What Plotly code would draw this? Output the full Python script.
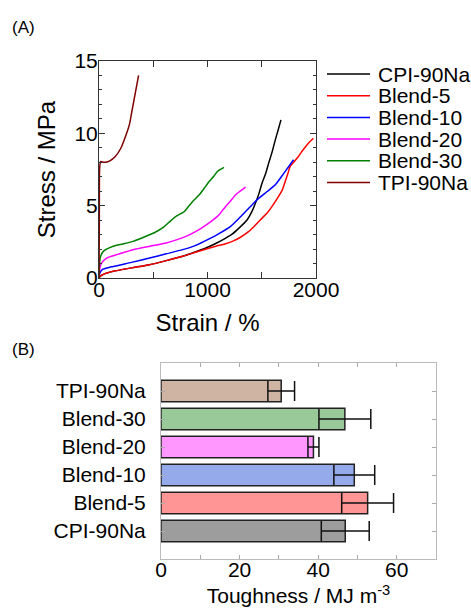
import plotly.graph_objects as go

FONT = "Liberation Sans, Arial, sans-serif"

# ---- (A) stress-strain curves ----
series_names = ["CPI-90Na", "Blend-5", "Blend-10", "Blend-20", "Blend-30", "TPI-90Na"]
series_colors = ["#000000", "#ff0000", "#0000ff", "#ff00ff", "#008000", "#800000"]

cpi_x = [0, 10, 40, 131, 300, 466, 620, 771, 880, 985, 1080, 1168, 1230, 1290, 1366, 1410, 1442, 1475, 1503, 1535, 1564, 1595, 1625, 1650, 1677]
cpi_y = [0, 0.1, 0.25, 0.46, 0.7, 0.92, 1.2, 1.5, 1.78, 2.07, 2.4, 2.76, 3.05, 3.45, 4.03, 4.6, 5.18, 5.85, 6.56, 7.2, 7.94, 8.7, 9.55, 10.2, 10.93]

b5_x = [0, 10, 40, 131, 300, 466, 620, 771, 920, 1076, 1160, 1229, 1300, 1381, 1440, 1503, 1550, 1595, 1655, 1690, 1716, 1740, 1762, 1800, 1838, 1880, 1930, 1976]
b5_y = [0, 0.1, 0.25, 0.46, 0.7, 0.92, 1.2, 1.5, 1.85, 2.19, 2.35, 2.53, 2.8, 3.22, 3.65, 4.14, 4.5, 4.95, 5.64, 6.1, 6.67, 7.2, 7.71, 8.05, 8.4, 8.85, 9.32, 9.66]

b10_x = [0, 8, 30, 131, 300, 466, 620, 771, 880, 969, 1090, 1213, 1280, 1351, 1410, 1473, 1550, 1625, 1700, 1793]
b10_y = [0, 0.35, 0.58, 0.8, 1.08, 1.38, 1.67, 1.96, 2.22, 2.53, 3.0, 3.57, 4.05, 4.6, 5.05, 5.52, 5.98, 6.44, 7.2, 8.17]

b20_x = [0, 6, 20, 70, 180, 314, 470, 619, 720, 802, 890, 969, 1040, 1107, 1140, 1168, 1210, 1259, 1300, 1351]
b20_y = [0, 0.6, 1.0, 1.38, 1.65, 1.96, 2.2, 2.42, 2.65, 2.88, 3.2, 3.57, 3.95, 4.37, 4.7, 4.95, 5.3, 5.75, 6.0, 6.28]

b30_x = [0, 4, 15, 40, 131, 220, 314, 390, 466, 540, 604, 660, 710, 787, 830, 863, 924, 970, 1015, 1060, 1091, 1152]
b30_y = [0, 0.9, 1.5, 1.84, 2.19, 2.35, 2.53, 2.75, 2.99, 3.25, 3.57, 3.95, 4.26, 4.6, 5.0, 5.29, 5.75, 6.2, 6.67, 7.05, 7.36, 7.64]

tpi_x = [0, 3, 6, 15, 40, 60, 100, 150, 200, 250, 280, 300, 320, 340, 365]
tpi_y = [0, 4.0, 7.6, 8.05, 8.0, 8.0, 8.1, 8.4, 8.95, 9.9, 10.6, 11.4, 12.2, 13.0, 14.0]

curves_x = [cpi_x, b5_x, b10_x, b20_x, b30_x, tpi_x]
curves_y = [cpi_y, b5_y, b10_y, b20_y, b30_y, tpi_y]

# ---- (B) toughness bars ----
bar_labels = ["CPI-90Na", "Blend-5", "Blend-10", "Blend-20", "Blend-30", "TPI-90Na"]
toughness = [46.9, 52.6, 49.2, 38.8, 46.8, 30.6]
toughness_err = [6.1, 6.6, 5.2, 1.4, 6.6, 3.4]
bar_colors = ["rgba(140,140,140,0.85)", "rgba(255,130,130,0.85)", "rgba(130,155,230,0.85)",
              "rgba(255,140,255,0.9)", "rgba(135,190,135,0.85)", "rgba(195,160,140,0.8)"]

fig = go.Figure()

for name, color, xs, ys in zip(series_names, series_colors, curves_x, curves_y):
    fig.add_trace(go.Scatter(x=xs, y=ys, mode="lines", name=name, showlegend=False,
                             line=dict(color=color, width=1.5, shape="spline", smoothing=0.6),
                             xaxis="x", yaxis="y"))

fig.add_trace(go.Bar(x=toughness, y=bar_labels, orientation="h", width=0.77,
                     marker=dict(color=bar_colors, line=dict(color="#222222", width=1.5)),
                     error_x=dict(type="data", array=toughness_err, visible=True,
                                  color="#111111", thickness=1.5, width=10),
                     showlegend=False, xaxis="x2", yaxis="y2"))

W, H = 471, 608
def px_x(p):
    return p / W
def px_y(p):
    return 1 - p / H

axis_font = dict(family=FONT, size=21, color="#000000")

# manual legend (compact row spacing like the reference)
shapes = []
annotations = []
leg_top, leg_step = 74, 21.7
for i, (name, color) in enumerate(zip(series_names, series_colors)):
    yy = px_y(leg_top + i * leg_step)
    shapes.append(dict(type="line", xref="paper", yref="paper",
                       x0=px_x(327), x1=px_x(370), y0=yy, y1=yy,
                       line=dict(color=color, width=1.5)))
    annotations.append(dict(text=name, x=px_x(376), y=yy, xref="paper", yref="paper",
                            xanchor="left", yanchor="middle", showarrow=False,
                            font=dict(family=FONT, size=21, color="#000000")))

annotations += [
    dict(text="(A)", x=px_x(10), y=px_y(27), xref="paper", yref="paper",
         xanchor="left", yanchor="middle", showarrow=False,
         font=dict(family=FONT, size=17, color="#000000")),
    dict(text="(B)", x=px_x(10), y=px_y(349), xref="paper", yref="paper",
         xanchor="left", yanchor="middle", showarrow=False,
         font=dict(family=FONT, size=17, color="#000000")),
]

fig.update_layout(
    width=W, height=H,
    margin=dict(l=0, r=0, t=0, b=0, autoexpand=False),
    paper_bgcolor="white", plot_bgcolor="white",
    font=dict(family=FONT, size=21, color="#000000"),
    showlegend=False,
    xaxis=dict(domain=[px_x(99), px_x(316)], range=[0, 2000], anchor="y",
               tickvals=[0, 1000, 2000], ticks="inside", ticklen=6, tickcolor="#333333",
               showline=True, linecolor="#333333", linewidth=1, mirror="allticks",
               showgrid=False, zeroline=False, tickfont=axis_font, ticklabelstandoff=-7,
               minor=dict(ticks="inside", dtick=500, ticklen=6, tickcolor="#333333"),
               title=dict(text="Strain / %", font=dict(family=FONT, size=24), standoff=13)),
    yaxis=dict(domain=[px_y(278), px_y(61)], range=[0, 15], anchor="x",
               tickvals=[0, 5, 10, 15], ticks="inside", ticklen=6, tickcolor="#333333",
               showline=True, linecolor="#333333", linewidth=1, mirror="allticks",
               showgrid=False, zeroline=False, tickfont=axis_font, ticklabelstandoff=-4,
               minor=dict(ticks="inside", dtick=1, ticklen=3, tickcolor="#333333"),
               title=dict(text="Stress / MPa", font=dict(family=FONT, size=24), standoff=12)),
    xaxis2=dict(domain=[px_x(161), px_x(436)], range=[0, 70], anchor="y2",
                tickvals=[0, 20, 40, 60], ticks="inside", ticklen=4, tickcolor="#aaaaaa",
                showline=True, linecolor="#bbbbbb", linewidth=1, mirror="allticks",
                showgrid=False, zeroline=False, tickfont=axis_font, ticklabelstandoff=-8,
                minor=dict(ticks="inside", dtick=10, ticklen=4, tickcolor="#aaaaaa"),
                title=dict(text="Toughness / MJ m<sup>-3</sup>", font=dict(family=FONT, size=21), standoff=8)),
    yaxis2=dict(domain=[px_y(559), px_y(363)], range=[-1, 6], anchor="x2",
                type="category", categoryorder="array", categoryarray=bar_labels,
                ticks="inside", ticklen=4, tickcolor="#aaaaaa",
                showline=True, linecolor="#bbbbbb", linewidth=1, mirror="allticks",
                showgrid=False, zeroline=False, tickfont=axis_font, ticklabelstandoff=10),
    shapes=shapes,
    annotations=annotations,
)

fig.write_html("out.html")
